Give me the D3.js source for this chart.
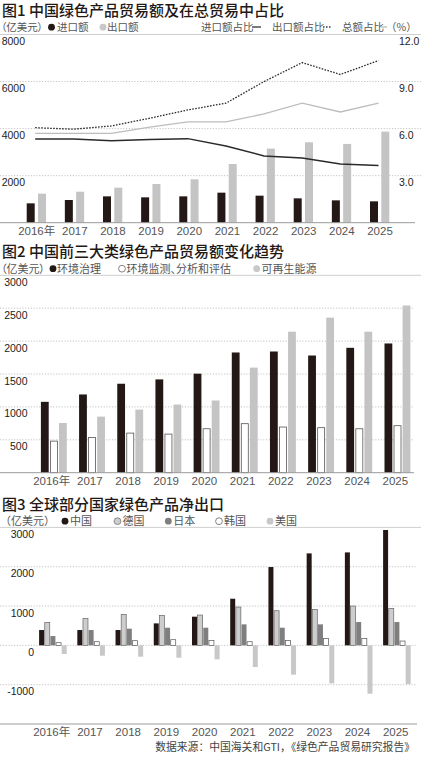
<!DOCTYPE html>
<html><head><meta charset="utf-8">
<script src="https://cdn.jsdelivr.net/npm/d3@7"></script>
<style>
body{margin:0;background:#fff;}
svg{display:block;}
text{font-family:"Liberation Sans","Noto Sans CJK SC",sans-serif;}
.cjk{font-family:"Noto Sans CJK SC",sans-serif;}
.palt{font-feature-settings:"palt";}
</style></head><body>
<svg id="chart" width="421" height="760"></svg>
<script>
// ---------- shared ----------
const years = ["2016年","2017","2018","2019","2020","2021","2022","2023","2024","2025"];

// ---------- chart 1 ----------
const importValues = [823,965,1120,1078,1120,1277,1149,1035,950,908];
const exportValues = [1234,1319,1489,1645,1844,2496,3149,3418,3348,3872];
const importShare  = [5.34,5.34,5.23,5.30,5.36,4.89,4.26,4.13,3.74,3.64];
const exportShare  = [6.06,5.96,6.17,6.66,7.19,7.62,9.00,10.21,9.45,10.34];
const totalShare   = [5.70,5.70,5.70,6.09,6.43,6.43,6.94,7.62,7.06,7.62];
const ticks1Left  = [2000,4000,6000,8000];
const ticks1Right = [3,6,9,12];

// ---------- chart 2 ----------
const envGovernance = [1077,1189,1352,1418,1505,1827,1842,1781,1898,1964];
const envMonitoring = [480,536,602,587,668,745,694,684,668,714];
const renewable     = [755,852,959,1036,1097,1597,2143,2357,2143,2541];
const ticks2 = [500,1000,1500,2000,2500,3000];

// ---------- chart 3 ----------
const countries  = ["中国","德国","日本","韩国","美国"];
const netChina   = [390,390,390,559,729,1186,1992,2339,2364,2934];
const netGermany = [585,686,788,763,771,975,881,915,1000,941];
const netJapan   = [237,390,424,449,449,534,449,534,593,593];
const netKorea   = [68,93,119,144,127,93,127,178,178,110];
const netUSA     = [-220,-263,-288,-314,-356,-551,-746,-966,-1229,-983];
const ticks3 = [-1000,0,1000,2000,3000];

const BLACK = "#231815", GRAY = "#c4c4c4", MID = "#7f7f7f";
const svg = d3.select("#chart");

function title(y, txt){
  svg.append("text").attr("class","cjk").attr("x",2).attr("y",y)
    .attr("font-size",15).attr("font-weight",500).attr("fill",BLACK).text(txt);
}
function legText(x, y, txt, size, cls){
  return svg.append("text").attr("class", cls||"cjk palt").attr("x",x).attr("y",y)
    .attr("font-size",size).attr("fill","#555").text(txt);
}
function dot(cx, cy, fill, stroke){
  svg.append("circle").attr("cx",cx).attr("cy",cy).attr("r",3.4)
    .attr("fill",fill).attr("stroke",stroke||"none").attr("stroke-width",0.8);
}
function grid(y, x2, dotted, color){
  svg.append("line").attr("x1",0).attr("x2",x2).attr("y1",y).attr("y2",y)
    .attr("stroke",color).attr("stroke-width",dotted?0.8:1)
    .attr("stroke-dasharray",dotted?"1.2,1.6":null);
}
function xLabels(x, y){
  svg.append("g").selectAll("text").data(years).join("text")
    .attr("x",d=>x(d)).attr("y",y).attr("text-anchor","middle")
    .attr("font-size",11.5).attr("fill","#555").text(d=>d);
}
function yLabels(scale, ticks, x, anchor, fmt){
  svg.append("g").selectAll("text").data(ticks).join("text")
    .attr("x",x).attr("y",d=>scale(d)+10.5).attr("text-anchor",anchor)
    .attr("font-family","Roboto, Liberation Sans, sans-serif").attr("font-weight",500)
    .attr("font-size",10.5).attr("fill","#222").text(fmt);
}

// ================= CHART 1 =================
title(16, "图1 中国绿色产品贸易额及在总贸易中占比");
legText(1, 31, "（亿美元）", 10.5);
dot(51.5, 27.2, BLACK);
legText(57, 31, "进口额", 10.5);
dot(103, 27.2, "#c8c8c8");
legText(107, 31, "出口额", 10.5);
legText(201, 31, "进口额占比", 10.5);
svg.append("line").attr("x1",252).attr("x2",261).attr("y1",27).attr("y2",27).attr("stroke","#333").attr("stroke-width",1.3);
legText(272, 31, "出口额占比", 10.5);
svg.append("line").attr("x1",323).attr("x2",332).attr("y1",27).attr("y2",27).attr("stroke","#333").attr("stroke-width",1.3).attr("stroke-dasharray","1.5,1.5");
legText(342, 31, "总额占比", 10.5);
svg.append("line").attr("x1",381).attr("x2",387).attr("y1",27).attr("y2",27).attr("stroke","#bbb").attr("stroke-width",1.3);
legText(386, 31, "（%）", 10.5, "cjk");

const x1 = d3.scalePoint().domain(years).range([36.7, 380]);
const y1 = d3.scaleLinear().domain([0,8000]).range([222.7, 34.5]);
const y1r = d3.scaleLinear().domain([0,12]).range([222.7, 34.5]);

ticks1Left.forEach(t=>grid(y1(t), 421, t!==8000, t===8000?"#cfcfcf":"#b5b5b5"));
yLabels(y1, ticks1Left, 25, "end", d=>d);
yLabels(y1r, ticks1Right, 399, "start", d=>d3.format(".1f")(d));

svg.append("g").selectAll("rect").data(importValues).join("rect")
  .attr("x",(d,i)=>x1(years[i])-10).attr("width",8)
  .attr("y",d=>y1(d)).attr("height",d=>y1(0)-y1(d)).attr("fill",BLACK);
svg.append("g").selectAll("rect").data(exportValues).join("rect")
  .attr("x",(d,i)=>x1(years[i])+1.3).attr("width",8)
  .attr("y",d=>y1(d)).attr("height",d=>y1(0)-y1(d)).attr("fill",GRAY);

const line1 = d3.line().x((d,i)=>x1(years[i])-1.5).y(d=>y1r(d));
svg.append("path").datum(totalShare).attr("d",line1).attr("fill","none")
  .attr("stroke","#bdbdbd").attr("stroke-width",1.3);
svg.append("path").datum(importShare).attr("d",line1).attr("fill","none")
  .attr("stroke","#2a2a2a").attr("stroke-width",1.5);
svg.append("path").datum(exportShare).attr("d",line1).attr("fill","none")
  .attr("stroke","#2a2a2a").attr("stroke-width",1.3).attr("stroke-dasharray","1.6,1.4");

grid(y1(0), 415, false, "#9a9a9a");
xLabels(x1, 235);

// ================= CHART 2 =================
title(257, "图2 中国前三大类绿色产品贸易额变化趋势");
legText(1, 272.5, "（亿美元）", 11);
dot(53, 268.7, BLACK);
legText(57, 272.5, "环境治理", 11);
dot(122, 268.7, "#fff", "#666");
legText(126.5, 272.5, "环境监测、分析和评估", 11);
dot(256.7, 268.7, "#c8c8c8");
legText(261.5, 272.5, "可再生能源", 11);

const x2 = d3.scalePoint().domain(years).range([51.7, 395.3]);
const y2 = d3.scaleLinear().domain([0,3000]).range([472.7, 275.3]);
ticks2.forEach(t=>grid(y2(t), t===3000?421:414, t!==3000, t===3000?"#cfcfcf":"#b5b5b5"));
yLabels(y2, ticks2, 27.5, "end", d=>d);

svg.append("g").selectAll("rect").data(envGovernance).join("rect")
  .attr("x",(d,i)=>x2(years[i])-10.8).attr("width",7.8)
  .attr("y",d=>y2(d)).attr("height",d=>y2(0)-y2(d)).attr("fill",BLACK);
svg.append("g").selectAll("rect").data(envMonitoring).join("rect")
  .attr("x",(d,i)=>x2(years[i])-1.3).attr("width",7)
  .attr("y",d=>y2(d)).attr("height",d=>y2(0)-y2(d)).attr("fill","#fff")
  .attr("stroke","#555").attr("stroke-width",0.8);
svg.append("g").selectAll("rect").data(renewable).join("rect")
  .attr("x",(d,i)=>x2(years[i])+7.3).attr("width",7.8)
  .attr("y",d=>y2(d)).attr("height",d=>y2(0)-y2(d)).attr("fill",GRAY);

grid(y2(0), 414, false, "#9a9a9a");
xLabels(x2, 484.5);

// ================= CHART 3 =================
title(509.5, "图3 全球部分国家绿色产品净出口");
legText(0, 525, "（亿美元）", 11, "cjk");
const legend3 = [
  {x:65, fill:BLACK, stroke:null},
  {x:117.5, fill:"#cdcdcd", stroke:"#777"},
  {x:168.3, fill:MID, stroke:null},
  {x:219, fill:"#fff", stroke:"#666"},
  {x:270, fill:"#c8c8c8", stroke:null}
];
legend3.forEach((l,i)=>{ dot(l.x, 521.2, l.fill, l.stroke); legText(l.x+5, 525, countries[i], 11); });

const x3 = d3.scalePoint().domain(years).range([51.7, 395.7]);
const y3 = d3.scaleLinear().domain([-2000,3000]).range([724, 527.4]);
ticks3.forEach(t=>grid(y3(t), t===3000?421:417, t!==3000, t===3000?"#cfcfcf":"#b5b5b5"));
yLabels(y3, ticks3, 34, "end", d=>d);

const series3 = [
  {vals:netChina,   fill:BLACK,     stroke:"none"},
  {vals:netGermany, fill:"#cdcdcd", stroke:"#666"},
  {vals:netJapan,   fill:MID,       stroke:"none"},
  {vals:netKorea,   fill:"#fff",    stroke:"#555"},
  {vals:netUSA,     fill:"#c8c8c8", stroke:"none"}
];
series3.forEach((s,k)=>{
  svg.append("g").selectAll("rect").data(s.vals).join("rect")
    .attr("x",(d,i)=>x3(years[i])-12.6+k*5.65).attr("width",5)
    .attr("y",d=>y3(Math.max(0,d))).attr("height",d=>Math.abs(y3(d)-y3(0)))
    .attr("fill",s.fill).attr("stroke",s.stroke).attr("stroke-width",0.7);
});

grid(y3(-2000), 417, false, "#9a9a9a");
xLabels(x3, 736);

svg.append("text").attr("class","cjk").attr("x",415).attr("y",750.5).attr("text-anchor","end")
  .attr("font-size",10.8).attr("fill","#444").text("数据来源：中国海关和GTI，《绿色产品贸易研究报告》");
</script>
</body></html>
